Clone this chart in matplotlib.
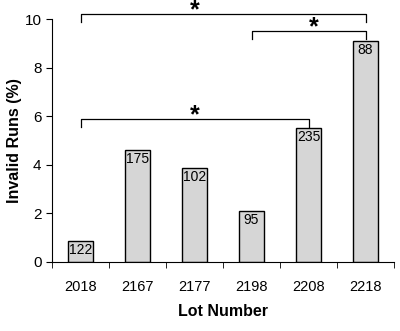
import matplotlib.pyplot as plt
import numpy as np

plt.rcParams['font.family'] = ['Liberation Sans', 'DejaVu Sans']

lots = ["2018", "2167", "2177", "2198", "2208", "2218"]
invalid_pct = [0.85, 4.6, 3.87, 2.1, 5.5, 9.1]
n_runs = ["122", "175", "102", "95", "235", "88"]

# significance brackets: (left bar, right bar, bracket height, star position)
brackets = [(0, 5, 10.2, 2.0), (3, 5, 9.5, 4.1), (0, 4, 5.9, 2.0)]

fig = plt.figure(figsize=(4.0, 3.31), dpi=100)
ax = fig.add_axes([0.13, 0.2085, 0.855, 0.734])

x = np.arange(len(lots))
ax.bar(x, invalid_pct, width=0.43, color="#d6d6d6", edgecolor="black", linewidth=1.0)

for xi, h, n in zip(x, invalid_pct, n_runs):
    ax.text(xi, h - 0.08, n, ha="center", va="top", fontsize=10)

for a, b, yb, xs in brackets:
    drop = 0.33
    ax.plot([a, a, b, b], [yb - drop, yb, yb, yb - drop],
            color="black", lw=0.9, clip_on=False)
    ax.annotate("*", xy=(xs, yb), xytext=(0, -2.5),
                textcoords="offset points", ha="center", va="baseline",
                fontsize=18, fontweight="bold", annotation_clip=False)

ax.set_xlim(-0.5, len(lots) - 0.5)
ax.set_ylim(0, 10)
ax.set_yticks([0, 2, 4, 6, 8, 10])
ax.set_xticks(x)
ax.set_xticklabels(lots)
ax.set_xticks(np.arange(-0.5, len(lots)), minor=True)
ax.tick_params(axis="x", which="major", length=0, pad=13, labelsize=10.5)
ax.tick_params(axis="x", which="minor", length=4, direction="out")
ax.tick_params(axis="y", length=4, direction="out", labelsize=11)

ax.spines["top"].set_visible(False)
ax.spines["right"].set_visible(False)

ax.set_xlabel("Lot Number", fontsize=11.5, fontweight="bold", labelpad=7)
ax.set_ylabel("Invalid Runs (%)", fontsize=11.5, fontweight="bold", labelpad=2)

fig.savefig("out.png", dpi=100)
